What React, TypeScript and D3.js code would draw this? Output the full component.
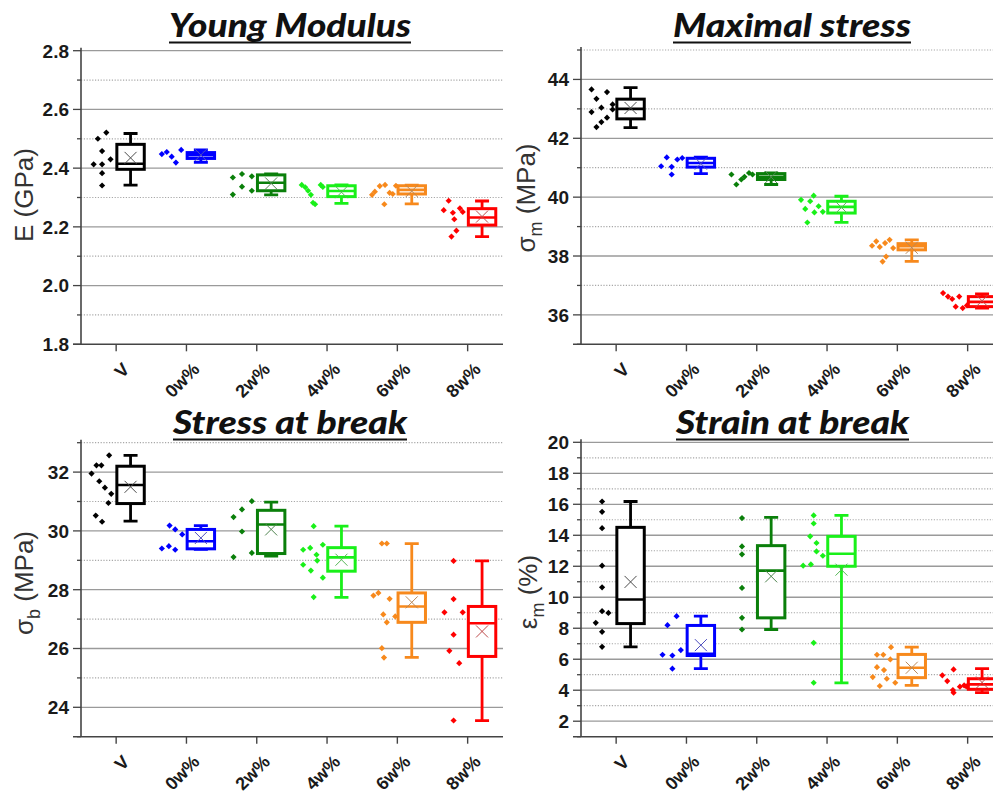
import React from "react";
import * as d3 from "d3";

const categories = ["V", "0w%", "2w%", "4w%", "6w%", "8w%"];
const groupColors = ["#000000", "#0000ff", "#0a7f0a", "#19f019", "#f7891c", "#ff0000"];

// ---------- Young Modulus (GPa) ----------
const youngPoints = [
  [2.5, 2.521, 2.458, 2.43, 2.413, 2.413, 2.383, 2.341],
  [2.448, 2.455, 2.439, 2.419, 2.462],
  [2.368, 2.38, 2.372, 2.337, 2.323, 2.31],
  [2.343, 2.335, 2.323, 2.309, 2.282, 2.277, 2.343, 2.336],
  [2.309, 2.32, 2.339, 2.343, 2.277, 2.316, 2.312, 2.34],
  [2.289, 2.257, 2.248, 2.263, 2.226, 2.187, 2.167, 2.251],
];
const youngJitter = [
  [-0.26, -0.14, -0.2, -0.08, -0.32, -0.2, -0.2, -0.2],
  [-0.35, -0.28, -0.21, -0.15, -0.075],
  [-0.34, -0.21, -0.07, -0.21, -0.07, -0.34],
  [-0.36, -0.31, -0.27, -0.23, -0.2, -0.17, -0.09, -0.06],
  [-0.36, -0.32, -0.25, -0.175, -0.185, -0.11, -0.065, -0.02],
  [-0.27, -0.34, -0.21, -0.11, -0.19, -0.16, -0.23, -0.07],
];
const youngLow = [2.342, 2.42, 2.309, 2.28, 2.278, 2.167];
const youngQ1 = [2.396, 2.433, 2.323, 2.303, 2.312, 2.206];
const youngMedian = [2.415, 2.444, 2.35, 2.322, 2.326, 2.232];
const youngQ3 = [2.481, 2.453, 2.377, 2.34, 2.34, 2.262];
const youngHigh = [2.518, 2.462, 2.38, 2.343, 2.342, 2.288];
const youngMean = [2.435, 2.445, 2.348, 2.318, 2.322, 2.235];

// ---------- Maximal stress (MPa) ----------
const maxPoints = [
  [43.66, 43.34, 43.57, 43.04, 43.15, 42.89, 42.98, 42.7, 42.55, 42.38],
  [41.05, 41.35, 41.03, 40.77, 41.28, 41.33],
  [40.77, 40.43, 40.6, 40.69, 40.82, 40.77],
  [39.91, 39.6, 39.86, 40.05, 39.14, 39.69, 39.48, 39.5],
  [38.35, 38.5, 38.31, 38.44, 38.55, 37.81, 37.98, 38.27],
  [36.74, 36.62, 36.54, 36.62, 36.28, 36.23, 36.32],
];
const maxJitter = [
  [-0.35, -0.28, -0.13, -0.21, -0.05, -0.35, -0.05, -0.13, -0.21, -0.28],
  [-0.36, -0.28, -0.21, -0.21, -0.13, -0.06],
  [-0.36, -0.29, -0.22, -0.175, -0.11, -0.06],
  [-0.37, -0.31, -0.24, -0.19, -0.28, -0.12, -0.18, -0.06],
  [-0.36, -0.3, -0.25, -0.175, -0.11, -0.21, -0.16, -0.06],
  [-0.35, -0.28, -0.22, -0.12, -0.17, -0.07, -0.01],
];
const maxLow = [42.36, 40.8, 40.43, 39.14, 37.82, 36.23];
const maxQ1 = [42.66, 41.02, 40.6, 39.46, 38.21, 36.28];
const maxMedian = [43.0, 41.16, 40.69, 39.67, 38.33, 36.44];
const maxQ3 = [43.33, 41.32, 40.8, 39.86, 38.42, 36.62];
const maxHigh = [43.72, 41.36, 40.82, 40.03, 38.55, 36.71];
const maxMean = [43.03, 41.14, 40.68, 39.65, 38.28, 36.48];

// ---------- Stress at break (MPa) ----------
const breakPoints = [
  [31.95, 32.23, 32.23, 32.57, 31.69, 31.47, 31.26, 30.95, 30.52, 30.31],
  [30.18, 30.05, 29.88, 29.4, 29.48, 29.36],
  [31.01, 30.73, 30.47, 29.98, 29.25, 29.11],
  [30.16, 29.36, 29.42, 29.53, 29.19, 28.99, 28.85, 28.65, 28.41, 27.75],
  [29.57, 29.57, 27.8, 27.89, 27.69, 27.16, 27.09, 26.89, 26.01, 25.69],
  [28.98, 27.68, 27.23, 27.23, 26.47, 25.92, 25.5, 23.55],
];
const breakJitter = [
  [-0.35, -0.28, -0.21, -0.1, -0.24, -0.16, -0.07, -0.11, -0.29, -0.2],
  [-0.24, -0.16, -0.06, -0.35, -0.25, -0.16],
  [-0.07, -0.21, -0.33, -0.21, -0.07, -0.33],
  [-0.19, -0.34, -0.24, -0.06, -0.15, -0.14, -0.34, -0.23, -0.06, -0.19],
  [-0.22, -0.15, -0.34, -0.27, -0.11, -0.2, -0.03, -0.15, -0.22, -0.19],
  [-0.2, -0.2, -0.33, -0.07, -0.2, -0.26, -0.12, -0.2],
];
const breakLow = [30.33, 29.37, 29.14, 27.74, 25.7, 23.55];
const breakQ1 = [30.93, 29.39, 29.23, 28.63, 26.89, 25.73];
const breakMedian = [31.56, 29.65, 30.22, 29.1, 27.43, 26.86];
const breakQ3 = [32.2, 30.05, 30.7, 29.43, 27.89, 27.43];
const breakHigh = [32.57, 30.18, 30.98, 30.16, 29.57, 28.98];
const breakMean = [31.5, 29.76, 30.05, 29.02, 27.57, 26.58];

// ---------- Strain at break (%) ----------
const strainPoints = [
  [16.18, 15.51, 14.46, 12.04, 10.64, 9.1, 8.99, 8.35, 7.77, 6.8],
  [8.78, 8.2, 6.59, 6.29, 6.24, 5.39],
  [15.11, 13.28, 12.77, 10.6, 8.67, 7.92],
  [15.28, 14.76, 13.93, 13.5, 12.96, 12.68, 12.04, 12.12, 7.06, 4.48],
  [6.78, 6.29, 6.29, 5.99, 5.49, 5.3, 4.85, 4.74, 4.48, 4.27],
  [4.96, 5.34, 4.59, 4.01, 3.84, 4.23, 4.31, 4.25],
];
const strainJitter = [
  [-0.2, -0.2, -0.2, -0.2, -0.2, -0.2, -0.11, -0.29, -0.2, -0.2],
  [-0.14, -0.27, -0.08, -0.34, -0.2, -0.2],
  [-0.21, -0.21, -0.21, -0.21, -0.21, -0.21],
  [-0.19, -0.19, -0.24, -0.15, -0.15, -0.06, -0.34, -0.23, -0.19, -0.19],
  [-0.09, -0.2, -0.29, -0.1, -0.29, -0.19, -0.35, -0.15, -0.03, -0.25],
  [-0.36, -0.2, -0.29, -0.21, -0.2, -0.11, -0.05, -0.02],
];
const strainLow = [6.8, 5.39, 7.92, 4.48, 4.31, 3.84];
const strainQ1 = [8.3, 6.24, 8.67, 12.0, 4.81, 4.06];
const strainMedian = [9.85, 6.35, 11.72, 12.81, 5.45, 4.38];
const strainQ3 = [14.51, 8.18, 13.33, 13.93, 6.31, 4.74];
const strainHigh = [16.18, 8.78, 15.15, 15.28, 6.78, 5.39];
const strainMean = [10.99, 6.91, 11.35, 11.78, 5.45, 4.5];

type Spec = {
  title: string;
  titleX: number;
  titleY: number;
  titleW: number;
  label: React.ReactNode;
  labelX: number;
  labelY: number;
  axisX: number;
  top: number;
  bottom: number;
  right: number;
  domain: [number, number];
  minor: number;
  major: number;
  fmt: (v: number) => string;
  points: number[][];
  jitter: number[][];
  low: number[];
  q1: number[];
  median: number[];
  q3: number[];
  high: number[];
  mean: number[];
};

const FONT = "'Liberation Sans', Arial, sans-serif";

const sub = (base: string, s: string, rest: string) => (
  <>
    <tspan>{base}</tspan>
    <tspan dy={7} fontSize={18}>{s}</tspan>
    <tspan dy={-7}>{rest}</tspan>
  </>
);

const specs: Spec[] = [
  {
    title: "Young Modulus", titleX: 290, titleY: 37, titleW: 242,
    label: <tspan>E (GPa)</tspan>, labelX: 33, labelY: 195,
    axisX: 81, top: 50.7, bottom: 344.3, right: 503,
    domain: [1.8, 2.8], minor: 0.1, major: 0.2, fmt: d3.format(".1f"),
    points: youngPoints, jitter: youngJitter, low: youngLow, q1: youngQ1,
    median: youngMedian, q3: youngQ3, high: youngHigh, mean: youngMean,
  },
  {
    title: "Maximal stress", titleX: 792, titleY: 37, titleW: 238,
    label: sub("σ", "m", " (MPa)"), labelX: 535, labelY: 198,
    axisX: 581, top: 50, bottom: 344.3, right: 1000,
    domain: [35, 45], minor: 1, major: 2, fmt: d3.format("d"),
    points: maxPoints, jitter: maxJitter, low: maxLow, q1: maxQ1,
    median: maxMedian, q3: maxQ3, high: maxHigh, mean: maxMean,
  },
  {
    title: "Stress at break", titleX: 290, titleY: 434, titleW: 234,
    label: sub("σ", "b", " (MPa)"), labelX: 33, labelY: 583,
    axisX: 81, top: 442.7, bottom: 736.7, right: 503,
    domain: [23, 33], minor: 1, major: 2, fmt: d3.format("d"),
    points: breakPoints, jitter: breakJitter, low: breakLow, q1: breakQ1,
    median: breakMedian, q3: breakQ3, high: breakHigh, mean: breakMean,
  },
  {
    title: "Strain at break", titleX: 792.5, titleY: 434, titleW: 233,
    label: sub("ε", "m", " (%)"), labelX: 537, labelY: 592,
    axisX: 581, top: 442.3, bottom: 736.7, right: 1000,
    domain: [1, 20], minor: 1, major: 2, fmt: d3.format("d"),
    points: strainPoints, jitter: strainJitter, low: strainLow, q1: strainQ1,
    median: strainMedian, q3: strainQ3, high: strainHigh, mean: strainMean,
  },
];

const diamond = d3.symbol(d3.symbolSquare, 19)() as string;

function Panel({ s, idx }: { s: Spec; idx: number }) {
  const y = d3.scaleLinear().domain(s.domain).range([s.bottom, s.top]);
  const x = d3
    .scaleLinear()
    .domain([-0.5, categories.length - 0.5])
    .range([s.axisX, s.axisX + 70.3 * categories.length]);
  const n = Math.round((s.domain[1] - s.domain[0]) / s.minor);
  const ticks = d3.range(n + 1).map((i) => +(s.domain[0] + i * s.minor).toFixed(6));
  const isMajor = (v: number) => Math.abs(v / s.major - Math.round(v / s.major)) < 1e-6;
  const clipId = `clip${idx}`;
  const bx0 = 0.01, bx1 = 0.4, bc = (bx0 + bx1) / 2;
  return (
    <g>
      <defs>
        <clipPath id={clipId}>
          <rect x={s.axisX} y={s.top - 10} width={s.right - s.axisX} height={s.bottom - s.top + 20} />
        </clipPath>
      </defs>
      {ticks.map((v) => {
        if (Math.abs(y(v) - s.bottom) < 0.5) return null;
        return isMajor(v) ? (
          <line key={"g" + v} x1={s.axisX} x2={s.right} y1={y(v)} y2={y(v)} stroke="#9a9a9a" strokeWidth={1.3} />
        ) : (
          <line key={"g" + v} x1={s.axisX} x2={s.right} y1={y(v)} y2={y(v)} stroke="#a8a8a8" strokeWidth={1.2} strokeDasharray="1.2,1.6" />
        );
      })}
      {ticks.map((v) => (
        <line key={"t" + v} x1={s.axisX - (isMajor(v) ? 8 : 4)} x2={s.axisX} y1={y(v)} y2={y(v)} stroke="#444" strokeWidth={1.3} />
      ))}
      {ticks.filter(isMajor).map((v) => (
        <text key={"l" + v} x={s.axisX - 12} y={y(v)} dy="0.36em" textAnchor="end" fontFamily={FONT} fontWeight="bold" fontSize={19} fill="#1a1a1a">
          {s.fmt(v)}
        </text>
      ))}
      <line x1={s.axisX} x2={s.axisX} y1={s.top - 3} y2={s.bottom} stroke="#444" strokeWidth={1.6} />
      <line x1={s.axisX - 8} x2={s.right} y1={s.bottom} y2={s.bottom} stroke="#444" strokeWidth={1.6} />
      {categories.map((c, i) => (
        <g key={"x" + c}>
          <line x1={x(i)} x2={x(i)} y1={s.bottom} y2={s.bottom + 7} stroke="#444" strokeWidth={1.4} />
          <text transform={`translate(${x(i) + 10},${s.bottom + 22}) rotate(-45)`} textAnchor="end" dominantBaseline="central" fontFamily={FONT} fontWeight="bold" fontSize={18} fill="#1a1a1a">
            {c}
          </text>
        </g>
      ))}
      <g clipPath={`url(#${clipId})`}>
        {categories.map((c, i) => {
          const col = groupColors[i];
          const meanCol = d3.interpolateRgb(col, "#888")(0.55);
          const xl = x(i + bx0), xr = x(i + bx1), xc = x(i + bc);
          const capW = 7;
          const mx = y(s.mean[i]);
          return (
            <g key={"d" + c}>
              {s.points[i].map((v, k) => (
                <path key={k} d={diamond} transform={`translate(${x(i + s.jitter[i][k])},${y(v)}) rotate(45)`} fill={col} />
              ))}
              <line x1={xc} x2={xc} y1={y(s.high[i])} y2={y(s.q3[i])} stroke={col} strokeWidth={2.8} />
              <line x1={xc} x2={xc} y1={y(s.q1[i])} y2={y(s.low[i])} stroke={col} strokeWidth={2.8} />
              <line x1={xc - capW} x2={xc + capW} y1={y(s.high[i])} y2={y(s.high[i])} stroke={col} strokeWidth={2.8} />
              <line x1={xc - capW} x2={xc + capW} y1={y(s.low[i])} y2={y(s.low[i])} stroke={col} strokeWidth={2.8} />
              <rect x={xl} y={y(s.q3[i])} width={xr - xl} height={Math.max(0.5, y(s.q1[i]) - y(s.q3[i]))} fill="#fff" stroke={col} strokeWidth={3} />
              <line x1={xl} x2={xr} y1={y(s.median[i])} y2={y(s.median[i])} stroke={col} strokeWidth={2.6} />
              <path d={`M${xc - 6},${mx - 6}L${xc + 6},${mx + 6}M${xc - 6},${mx + 6}L${xc + 6},${mx - 6}`} stroke={meanCol} strokeWidth={1} fill="none" />
            </g>
          );
        })}
      </g>
      <text x={s.titleX} y={s.titleY} textAnchor="middle" fontFamily="Lato, 'Open Sans', sans-serif" fontStyle="italic" fontWeight={900} fontSize={33} fill="#111" textLength={s.titleW} lengthAdjust="spacingAndGlyphs">
        {s.title}
      </text>
      <line x1={s.titleX - s.titleW / 2} x2={s.titleX + s.titleW / 2} y1={s.titleY + 5.5} y2={s.titleY + 5.5} stroke="#111" strokeWidth={2} />
      <text transform={`translate(${s.labelX},${s.labelY}) rotate(-90)`} textAnchor="middle" fontFamily={FONT} fontSize={26} fill="#333">
        {s.label}
      </text>
    </g>
  );
}

export default function App() {
  return (
    <svg width={993} height={794} style={{ position: "fixed", left: 0, top: 0, background: "#fff" }}>
      <rect width={993} height={794} fill="#fff" />
      {specs.map((s, i) => (
        <Panel key={i} s={s} idx={i} />
      ))}
    </svg>
  );
}
